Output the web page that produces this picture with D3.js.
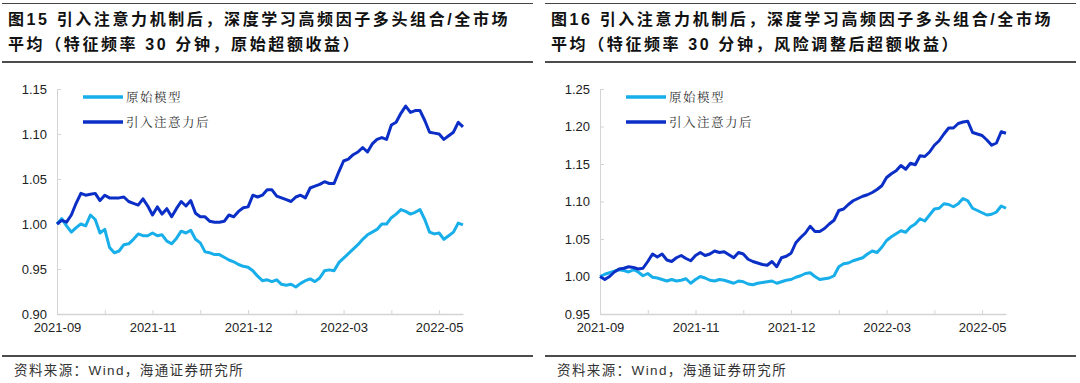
<!DOCTYPE html>
<html>
<head>
<meta charset="utf-8">
<script src="https://cdn.jsdelivr.net/npm/d3@7"></script>
<style>
  body { margin: 0; background: #fff; }
  svg { display: block; }
</style>
</head>
<body>
<svg id="chart" width="1080" height="383"></svg>
<script>
// two trading days per point, tick every 10 points
const dateLabels = ['2021-09', '2021-11', '2021-12', '2022-03', '2022-05'];
const seriesNames = ['原始模型', '引入注意力后'];

// fig 15: raw excess return
const rawBase = [
  1.000, 1.006, 0.998, 0.991, 0.996, 1.000, 0.998, 1.010, 1.005, 0.990,
  0.994, 0.974, 0.968, 0.970, 0.977, 0.978, 0.983, 0.989, 0.987, 0.987,
  0.990, 0.987, 0.988, 0.981, 0.978, 0.984, 0.992, 0.990, 0.993, 0.983,
  0.979, 0.969, 0.968, 0.966, 0.966, 0.963, 0.960, 0.958, 0.955, 0.953,
  0.952, 0.948, 0.942, 0.937, 0.938, 0.936, 0.938, 0.933, 0.932, 0.933,
  0.930, 0.934, 0.937, 0.939, 0.936, 0.940, 0.948, 0.949, 0.948, 0.957,
  0.962, 0.967, 0.972, 0.977, 0.983, 0.988, 0.991, 0.994, 1.000, 1.000,
  1.007, 1.011, 1.016, 1.014, 1.011, 1.013, 1.016, 1.005, 0.991, 0.989,
  0.990, 0.983, 0.987, 0.991, 1.001, 0.999
];
const rawAttn = [
  1.000, 1.004, 1.002, 1.010, 1.023, 1.034, 1.032, 1.033, 1.034, 1.026,
  1.032, 1.029, 1.029, 1.029, 1.030, 1.025, 1.023, 1.021, 1.028, 1.020,
  1.010, 1.019, 1.011, 1.017, 1.008, 1.017, 1.025, 1.020, 1.026, 1.012,
  1.008, 1.008, 1.003, 1.002, 1.002, 1.003, 1.010, 1.008, 1.014, 1.018,
  1.019, 1.032, 1.030, 1.032, 1.038, 1.038, 1.031, 1.029, 1.027, 1.025,
  1.030, 1.032, 1.029, 1.040, 1.042, 1.044, 1.047, 1.045, 1.045, 1.058,
  1.070, 1.072, 1.077, 1.080, 1.085, 1.080, 1.089, 1.094, 1.096, 1.094,
  1.110, 1.113, 1.123, 1.131, 1.124, 1.126, 1.126, 1.115, 1.102, 1.101,
  1.100, 1.094, 1.098, 1.102, 1.113, 1.108
];

// fig 16: risk-adjusted excess return
const adjBase = [
  1.000, 1.003, 1.005, 1.007, 1.009, 1.008, 1.006, 1.009, 1.006, 1.001,
  1.004, 0.999, 0.998, 0.996, 0.994, 0.996, 0.994, 0.995, 0.997, 0.991,
  0.996, 1.000, 0.998, 0.995, 0.994, 0.996, 0.995, 0.993, 0.991, 0.994,
  0.993, 0.990, 0.989, 0.991, 0.992, 0.993, 0.994, 0.991, 0.993, 0.995,
  0.996, 0.999, 1.001, 1.004, 1.005, 1.000, 0.996, 0.997, 0.998, 1.001,
  1.013, 1.017, 1.018, 1.021, 1.023, 1.025, 1.030, 1.034, 1.032, 1.039,
  1.048, 1.053, 1.057, 1.061, 1.059, 1.066, 1.070, 1.077, 1.074, 1.082,
  1.090, 1.091, 1.097, 1.096, 1.093, 1.097, 1.104, 1.101, 1.091, 1.088,
  1.085, 1.082, 1.083, 1.086, 1.094, 1.091
];
const adjAttn = [
  1.000, 0.996, 1.000, 1.006, 1.010, 1.011, 1.013, 1.012, 1.010, 1.011,
  1.020, 1.030, 1.026, 1.030, 1.022, 1.020, 1.025, 1.028, 1.024, 1.021,
  1.028, 1.032, 1.028, 1.030, 1.034, 1.032, 1.033, 1.029, 1.025, 1.032,
  1.030, 1.023, 1.020, 1.018, 1.016, 1.015, 1.020, 1.013, 1.025, 1.027,
  1.031, 1.045, 1.052, 1.058, 1.067, 1.060, 1.060, 1.064, 1.070, 1.075,
  1.088, 1.090, 1.096, 1.101, 1.104, 1.107, 1.109, 1.112, 1.116, 1.121,
  1.132, 1.137, 1.141, 1.148, 1.143, 1.151, 1.149, 1.161, 1.160, 1.166,
  1.175, 1.181, 1.190, 1.198, 1.198, 1.204, 1.206, 1.207, 1.192, 1.190,
  1.188, 1.182, 1.175, 1.178, 1.193, 1.191
];

const leftTicks = [0.90, 0.95, 1.00, 1.05, 1.10, 1.15];
const rightTicks = [0.95, 1.00, 1.05, 1.10, 1.15, 1.20, 1.25];

const colors = ['#17aeea', '#0b2fc6'];
const latin = '"Liberation Sans", Arial, "Noto Sans CJK SC", sans-serif';

const panels = [
  {
    left: 0,
    title: ['图15 引入注意力机制后，深度学习高频因子多头组合/全市场', '平均（特征频率 30 分钟，原始超额收益）'],
    series: [rawBase, rawAttn],
    ticks: leftTicks
  },
  {
    left: 543,
    title: ['图16 引入注意力机制后，深度学习高频因子多头组合/全市场', '平均（特征频率 30 分钟，风险调整后超额收益）'],
    series: [adjBase, adjAttn],
    ticks: rightTicks
  }
];

const svg = d3.select('#chart');

const drawPanel = (p) => {
  const g = svg.append('g').attr('transform', `translate(${p.left},0)`);

  // rules
  g.append('line').attr('x1', 2).attr('x2', 533).attr('y1', 3.5).attr('y2', 3.5)
    .attr('stroke', '#444').attr('stroke-width', 1);
  g.append('line').attr('x1', 2).attr('x2', 533).attr('y1', 62).attr('y2', 62)
    .attr('stroke', '#111').attr('stroke-width', 1.6);
  g.append('line').attr('x1', 2).attr('x2', 533).attr('y1', 356).attr('y2', 356)
    .attr('stroke', '#111').attr('stroke-width', 1.6);

  // title
  g.selectAll('.title').data(p.title).enter().append('text')
    .attr('x', 8)
    .attr('y', (d, i) => 25 + i * 25)
    .attr('font-family', latin)
    .attr('font-weight', 'bold')
    .attr('font-size', 16)
    .attr('letter-spacing', 2.6)
    .attr('fill', '#111')
    .text(d => d);

  // footer
  g.append('text')
    .attr('x', 14).attr('y', 375)
    .attr('font-family', latin)
    .attr('font-size', 13.5)
    .attr('fill', '#333')
    .attr('letter-spacing', 1.4)
    .text('资料来源：Wind，海通证券研究所');

  const x = d3.scaleLinear().domain([0, 85]).range([57, 463]);
  const y = d3.scaleLinear()
    .domain([p.ticks[0], p.ticks[p.ticks.length - 1]])
    .range([314, 89]);

  // y axis
  const yAxis = g.append('g')
    .attr('transform', 'translate(57,0)')
    .call(d3.axisLeft(y).tickValues(p.ticks).tickFormat(d3.format('.2f'))
      .tickSizeInner(-4).tickSizeOuter(0).tickPadding(10));
  yAxis.select('.domain').attr('stroke', '#d4d4d4');
  yAxis.selectAll('.tick line').attr('stroke', '#d4d4d4');
  yAxis.selectAll('text').attr('font-family', latin).attr('font-size', 13).attr('fill', '#222');

  // x axis
  const xAxis = g.append('g')
    .attr('transform', 'translate(0,314)')
    .call(d3.axisBottom(x).tickValues(d3.range(0, 86, 10))
      .tickFormat(d => (d % 20 === 0 ? dateLabels[d / 20] : ''))
      .tickSizeInner(-4).tickSizeOuter(0).tickPadding(9));
  xAxis.select('.domain').attr('stroke', '#d4d4d4').attr('stroke-width', 1.5);
  xAxis.selectAll('.tick line').attr('stroke', '#d4d4d4');
  xAxis.selectAll('text').attr('font-family', latin).attr('font-size', 13).attr('fill', '#222');

  // lines
  const line = d3.line().x((d, i) => x(i)).y(d => y(d)).curve(d3.curveLinear);
  p.series.forEach((s, k) => {
    g.append('path')
      .datum(s)
      .attr('fill', 'none')
      .attr('stroke', colors[k])
      .attr('stroke-width', 3)
      .attr('stroke-linejoin', 'round')
      .attr('d', line);
  });

  // legend
  const lg = g.append('g').attr('transform', 'translate(83,97)');
  seriesNames.forEach((name, k) => {
    lg.append('line')
      .attr('x1', 0).attr('x2', 40)
      .attr('y1', k * 25).attr('y2', k * 25)
      .attr('stroke', colors[k]).attr('stroke-width', 3.5);
    lg.append('text')
      .attr('x', 43).attr('y', k * 25 + 4.5)
      .attr('font-family', '"Noto Serif CJK SC", "Noto Sans CJK SC", serif')
      .attr('font-size', 12.5)
      .attr('letter-spacing', 1.5)
      .attr('fill', '#333')
      .text(name);
  });
};

panels.forEach(drawPanel);
</script>
</body>
</html>
